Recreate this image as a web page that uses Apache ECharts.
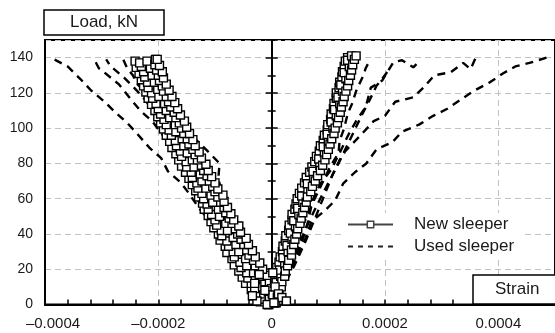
<!DOCTYPE html>
<html>
<head>
<meta charset="utf-8">
<script src="https://cdn.jsdelivr.net/npm/echarts@6/dist/echarts.min.js"></script>
<style>
  html, body { margin: 0; padding: 0; background: #fff; }
  #chart { width: 555px; height: 333px; }
</style>
</head>
<body>
<div id="chart"></div>
<script>
// strain values are in units of 1e-5, load in kN: [strain, load]
const newLeftA = [[-0.5,0],[-1.6,3],[-2.4,6],[-3.0,9],[-3.6,12],[-4.2,15],[-4.4,18],[-5.4,21],[-5.6,24],[-6.6,27],[-6.8,30],[-7.6,33],[-7.9,36],[-8.8,39],[-8.9,42],[-9.7,45],[-10.0,48],[-10.6,51],[-11.2,54],[-11.4,57],[-12.0,60],[-12.3,63],[-13.0,66],[-13.2,69],[-14.0,72],[-14.2,75],[-15.0,78],[-15.1,81],[-15.9,84],[-16.1,87],[-16.8,90],[-17.0,93],[-17.7,96],[-18.1,99],[-18.6,102],[-19.0,105],[-19.6,108],[-20.0,111],[-20.4,114],[-21.0,117],[-21.2,120],[-21.8,123],[-21.9,126],[-22.4,129],[-22.6,132],[-23.0,135],[-23.3,137]];
const newLeftB = [[0.8,1],[-0.2,4],[-0.6,7],[-1.0,10],[-1.2,13],[-1.9,16],[-2.3,19],[-2.9,22],[-3.2,25],[-4.0,28],[-4.4,31],[-4.9,34],[-5.4,37],[-6.0,40],[-6.4,43],[-7.0,46],[-7.5,49],[-8.1,52],[-8.4,55],[-9.0,58],[-9.5,61],[-10.0,64],[-10.4,67],[-11.0,70],[-11.4,73],[-12.0,76],[-12.4,79],[-13.1,82],[-13.5,85],[-13.9,88],[-14.6,91],[-14.9,94],[-15.5,97],[-15.9,100],[-16.3,103],[-16.9,106],[-17.2,109],[-17.8,112],[-18.2,115],[-18.6,118],[-19.1,121],[-19.3,124],[-19.8,127],[-20.0,130],[-20.3,133],[-20.6,136],[-20.5,139]];
const newLeftC = [[-0.4,2],[-1.4,6],[-1.6,10],[-2.9,14],[-3.2,18],[-4.4,22],[-4.6,26],[-5.8,30],[-6.3,34],[-6.8,38],[-7.8,42],[-8.1,46],[-9.2,50],[-9.4,54],[-10.4,58],[-10.7,62],[-11.6,66],[-12.3,70],[-12.6,74],[-13.7,78],[-14.0,82],[-14.9,86],[-15.5,90],[-15.8,94],[-16.9,98],[-17.0,102],[-18.0,106],[-18.6,110],[-18.9,114],[-19.9,118],[-20.1,122],[-20.7,126],[-21.1,130],[-21.4,134],[-22.0,138]];
const newLeftD = [[-2.0,1.5],[-3.2,5],[-3.6,8.5],[-4.6,12],[-5.2,15.5],[-5.8,19],[-6.6,22.5],[-7.0,26],[-7.9,29.5],[-8.2,33],[-9.1,36.5],[-9.4,40],[-10.2,43.5],[-10.7,47],[-11.2,50.5],[-11.9,54],[-12.2,57.5],[-12.9,61],[-13.4,64.5],[-14.0,68],[-14.6,71.5],[-15.2,75],[-15.9,78.5],[-16.4,82],[-16.9,85.5],[-17.6,89],[-18.0,92.5],[-18.6,96],[-19.1,99.5],[-19.6,103],[-20.1,106.5],[-20.6,110],[-21.2,113.5],[-21.8,117],[-22.2,120.5],[-22.6,124],[-23.0,127.5],[-23.4,131],[-23.9,134.5],[-24.1,138]];
const newLeftE = [[1.2,2.5],[0.6,6],[0.4,9.5],[-0.4,13],[-0.8,16.5],[-1.6,20],[-2.1,23.5],[-2.9,27],[-3.4,30.5],[-4.1,34],[-4.5,37.5],[-5.5,41],[-5.8,44.5],[-6.7,48],[-7.2,51.5],[-7.8,55],[-8.4,58.5],[-8.6,62],[-9.5,65.5],[-10.0,69],[-10.6,72.5],[-11.2,76],[-11.6,79.5],[-12.4,83],[-12.8,86.5],[-13.5,90],[-13.9,93.5],[-14.5,97],[-15.0,100.5],[-15.4,104],[-16.1,107.5],[-16.6,111],[-17.1,114.5],[-17.6,118],[-18.1,121.5],[-18.6,125],[-19.1,128.5],[-19.3,132],[-19.8,135.5],[-20.2,139]];
const newRightA = [[-0.6,0],[-0.4,3],[0.1,6],[0.0,9],[0.5,12],[0.6,15],[0.9,18],[0.9,21],[1.3,24],[1.5,27],[1.9,30],[2.0,33],[2.4,36],[2.5,39],[3.0,42],[3.1,45],[3.6,48],[3.6,51],[4.1,54],[4.3,57],[4.5,60],[4.9,63],[5.3,66],[5.8,69],[6.1,72],[6.7,75],[7.1,78],[7.6,81],[7.9,84],[8.4,87],[8.6,90],[9.1,93],[9.3,96],[9.8,99],[9.9,102],[10.4,105],[10.5,108],[10.9,111],[11.0,114],[11.4,117],[11.4,120],[11.9,123],[12.0,126],[12.4,129],[12.5,132],[12.8,135],[13.0,138],[13.4,140]];
const newRightB = [[0.6,1],[1.0,4],[1.3,7],[1.7,10],[1.8,13],[2.3,16],[2.4,19],[2.8,22],[3.0,25],[3.5,28],[3.5,31],[3.9,34],[4.1,37],[4.4,40],[4.6,43],[5.0,46],[5.2,49],[5.5,52],[5.8,55],[6.1,58],[6.3,61],[6.9,64],[7.2,67],[7.7,70],[8.1,73],[8.6,76],[9.0,79],[9.4,82],[9.7,85],[10.0,88],[10.3,91],[10.6,94],[11.0,97],[11.2,100],[11.6,103],[11.8,106],[12.1,109],[12.3,112],[12.6,115],[12.8,118],[13.1,121],[13.4,124],[13.6,127],[13.9,130],[14.1,133],[14.3,136],[14.6,139],[14.9,141]];
const newRightC = [[0.4,2],[0.2,5.5],[1.1,9],[0.8,12.5],[1.6,16],[1.4,19.5],[2.3,23],[2.0,26.5],[2.9,30],[2.7,33.5],[3.6,37],[3.3,40.5],[4.2,44],[3.9,47.5],[4.8,51],[4.6,54.5],[5.5,58],[5.3,61.5],[6.4,65],[6.3,68.5],[7.4,72],[7.3,75.5],[8.5,79],[8.3,82.5],[9.3,86],[9.1,89.5],[10.0,93],[9.8,96.5],[10.8,100],[10.5,103.5],[11.4,107],[11.1,110.5],[12.0,114],[11.7,117.5],[12.5,121],[12.2,124.5],[13.1,128],[12.8,131.5],[13.7,135],[13.4,138.5],[14.1,141]];
const newOrigin = [[-0.8,0],[-2.6,2],[-3.4,5],[-1.2,8],[-3.0,12],[-2.2,17],[0.2,18],[0.6,10],[1.2,6],[1.8,4],[2.6,2],[0.4,1]];

const usedL1 = [[0,0],[-1.5,5],[-3.5,13],[-5.5,22],[-7.5,31],[-9.3,40],[-11,47.5],[-12.8,54.5],[-14.6,63],[-16,69],[-18.3,75.5],[-19.5,83],[-21.6,89],[-23.5,96],[-25.5,103],[-27.6,109],[-29.5,115],[-31.9,121.5],[-33.8,128],[-36,135],[-39,140]];
const usedL2 = [[0,0],[-1.3,8],[-3,18],[-4.8,28],[-6.6,38],[-8.5,48],[-10.3,58],[-12,68],[-13.8,76],[-15.5,83],[-17.2,88],[-19.2,96],[-21.1,104],[-23.2,110],[-25,117],[-27,125],[-29.5,131.5],[-30.5,134],[-31.3,139]];
const usedL3 = [[0,0],[-1.2,8],[-2.8,18],[-4.5,28],[-6.2,38],[-8,48],[-9.7,58],[-11.4,68],[-13,78],[-14.6,88],[-16.3,97],[-18.2,104],[-20.8,109],[-22.3,116],[-24,122],[-26,128.5],[-28,134],[-28.6,136],[-29.2,139]];
const usedL4 = [[0,0],[-1.2,8],[-2.9,18],[-4.6,28],[-6.3,38],[-8,48],[-9.6,58],[-11.2,68],[-12.8,78],[-14.3,88],[-15.8,96],[-17.5,104],[-19.6,112],[-21.5,118],[-23.7,125],[-24.5,130],[-25.5,134],[-26.2,139]];
const usedL5 = [[0,0],[-1.5,12],[-3,24],[-5,38],[-7,50],[-8.8,62],[-9.4,72],[-9.2,80],[-11,86],[-13.5,94],[-16,104],[-18.5,116],[-20.5,128],[-21.5,136]];
const usedR1 = [[0,0],[1.3,10],[2.8,22],[4.3,35],[5.8,47],[7.3,58],[8.8,68],[10.3,78],[11.8,86],[12,93],[12.8,100],[13.4,108],[14.2,114],[14.9,121],[16.2,130],[16.6,134],[17.3,138.5]];
const usedR2 = [[0,0],[1.6,10],[3.2,22],[4.8,34],[6.3,45],[7.8,55],[9.2,64],[10.5,72],[11.8,80],[13,88],[14.5,98],[16,108],[17.3,116],[18.5,124],[19.5,128],[20.2,131],[20.8,134]];
const usedR3 = [[0,0],[1.8,10],[3.6,22],[5.4,36],[6.5,48],[7.2,59],[8.5,68],[10.5,76.5],[12,86],[13.5,96],[14.9,104],[16.6,112],[17.5,123],[19.5,127],[21.5,137.5],[23,138.5],[25,134.5],[25.9,137.5]];
const usedR4 = [[0,0],[2,10],[4,22],[6,36],[7.8,50],[9.3,62],[10.8,74],[12,82],[13,87],[14.2,91],[16,97],[18,104],[20,107],[21.8,115],[25,117.5],[26.8,123],[28.7,130],[31.6,131.7],[33.8,137],[35.1,133.5],[36.3,142]];
const usedR5 = [[0,0],[1.5,8],[3,17],[4.5,27],[5.9,37],[7,47],[9.3,53],[11.2,59],[12.6,68.5],[14.7,75],[16.7,80],[18.5,88],[21.3,92],[23,98],[26,102],[28.5,107],[31,111],[32.8,115],[35.6,121],[38.5,126],[40.8,131],[43,135],[45.5,137],[48.5,140]];

const xTicks = [-0.0004, -0.0002, 0, 0.0002, 0.0004];
const yTicks = [0, 20, 40, 60, 80, 100, 120, 140];

const FONT = "'Liberation Sans', Arial, sans-serif";
const toStrain = pts => pts.map(p => [p[0] * 1e-5, p[1]]);

const usedLines = [usedL1, usedL2, usedL3, usedL4, usedL5, usedR1, usedR2, usedR3, usedR4, usedR5];
const newLines = [newLeftD, newLeftA, newLeftC, newLeftB, newLeftE, newRightA, newRightC, newRightB, newOrigin];

const series = [];
usedLines.forEach(d => {
  series.push({
    name: "Used sleeper",
    type: "line",
    data: toStrain(d),
    symbol: "none",
    color: "#000",
    lineStyle: { color: "#000", width: 2.4, type: [8, 6] },
    z: 2,
  });
});
newLines.forEach(d => {
  series.push({
    name: "New sleeper",
    type: "line",
    data: toStrain(d),
    symbol: "rect",
    symbolSize: 8,
    itemStyle: { color: "#fff", borderColor: "#000", borderWidth: 1.4 },
    lineStyle: { color: "#000", width: 1.2 },
    z: 3,
  });
});

const fmtX = v => {
  const near = xTicks.find(t => Math.abs(t - v) < 1e-9);
  if (near === undefined) return "";
  if (near === 0) return "0";
  const s = near.toFixed(4).replace("-", "\u2013");
  return near === xTicks[0] ? "{m|" + s + "}" : s;
};

// extra y axes sitting on x = 0, only for the ticks on both sides
const tickAxis = (interval, len, inside) => ({
  type: "value",
  min: 0,
  max: 150,
  interval: interval,
  position: "left",
  axisLine: { show: true, onZero: true, onZeroAxisIndex: 0, lineStyle: { color: "#000", width: 2 } },
  axisTick: { show: true, inside: inside, length: len, lineStyle: { color: "#000", width: 1.5 } },
  axisLabel: { show: false },
  splitLine: { show: false },
});

const chart = echarts.init(document.getElementById("chart"));

const option = {
  animation: false,
  backgroundColor: "#fff",
  title: [
    {
      text: "Load, kN",
      left: 44,
      top: 10,
      padding: [4, 26, 4, 26],
      borderColor: "#000",
      borderWidth: 1.5,
      backgroundColor: "#fff",
      textStyle: { fontSize: 17, fontWeight: "normal", color: "#1a1a1a", fontFamily: FONT },
    },
    {
      text: "Strain",
      left: 473,
      top: 275,
      padding: [6, 40, 6, 22],
      borderColor: "#000",
      borderWidth: 1.5,
      backgroundColor: "#fff",
      textStyle: { fontSize: 17, fontWeight: "normal", color: "#1a1a1a", fontFamily: FONT },
    },
  ],
  legend: {
    orient: "vertical",
    left: 341,
    top: 213,
    itemWidth: 45,
    itemHeight: 8,
    itemGap: 5,
    padding: [3, 8, 3, 6],
    backgroundColor: "#fff",
    selectedMode: false,
    textStyle: { fontSize: 17, color: "#1a1a1a", fontFamily: FONT, padding: [0, 0, 0, 16] },
    data: [
      {
        name: "New sleeper",
        itemStyle: { color: "#fff", borderColor: "#444", borderWidth: 1.5 },
        lineStyle: { color: "#444", width: 2 },
      },
      {
        name: "Used sleeper",
        icon: "path://M0,0L0,0M45,8L45,8M0,3h5v2h-5zM10,3h5v2h-5zM20,3h5v2h-5zM30,3h5v2h-5zM40,3h5v2h-5z",
        itemStyle: { color: "#222", borderWidth: 0 },
      },
    ],
  },
  grid: {
    left: 45,
    right: -2,
    top: 40,
    bottom: 28.5,
    show: true,
    borderColor: "#000",
    borderWidth: 2,
  },
  xAxis: [
    {
      type: "value",
      min: -0.0004,
      max: 0.0005,
      interval: 0.0002,
      position: "bottom",
      axisLine: { onZero: false, lineStyle: { color: "#000", width: 2 } },
      axisTick: { show: true, inside: true, length: 5, lineStyle: { color: "#000", width: 1.5 } },
      axisLabel: {
        fontSize: 15,
        color: "#1a1a1a",
        fontFamily: FONT,
        margin: 12,
        showMaxLabel: false,
        formatter: fmtX,
        rich: { m: { fontSize: 15, color: "#1a1a1a", fontFamily: FONT, padding: [0, 0, 0, 16] } },
      },
      splitLine: { show: true, lineStyle: { color: "#c2c2c2", type: [6, 4] } },
    },
    {
      type: "value",
      min: -0.0004,
      max: 0.0005,
      interval: 0.00004,
      position: "bottom",
      axisLine: { show: false, onZero: false },
      axisTick: { show: true, inside: true, length: 5, lineStyle: { color: "#000", width: 1.5 } },
      axisLabel: { show: false },
      splitLine: { show: false },
    },
  ],
  yAxis: [
    {
      type: "value",
      min: 0,
      max: 150,
      interval: 20,
      position: "left",
      axisLine: { show: true, onZero: false, lineStyle: { color: "#000", width: 2 } },
      axisTick: { show: false },
      axisLabel: {
        fontSize: 14,
        color: "#1a1a1a",
        fontFamily: FONT,
        margin: 12,
        showMaxLabel: false,
        formatter: v => (yTicks.indexOf(v) >= 0 ? String(v) : ""),
      },
      splitLine: { show: true, lineStyle: { color: "#c2c2c2", type: [6, 4] } },
    },
    tickAxis(20, 6, false),
    tickAxis(20, 6, true),
    tickAxis(10, 4, false),
    tickAxis(10, 4, true),
  ],
  series: series,
};

chart.setOption(option);
</script>
</body>
</html>
